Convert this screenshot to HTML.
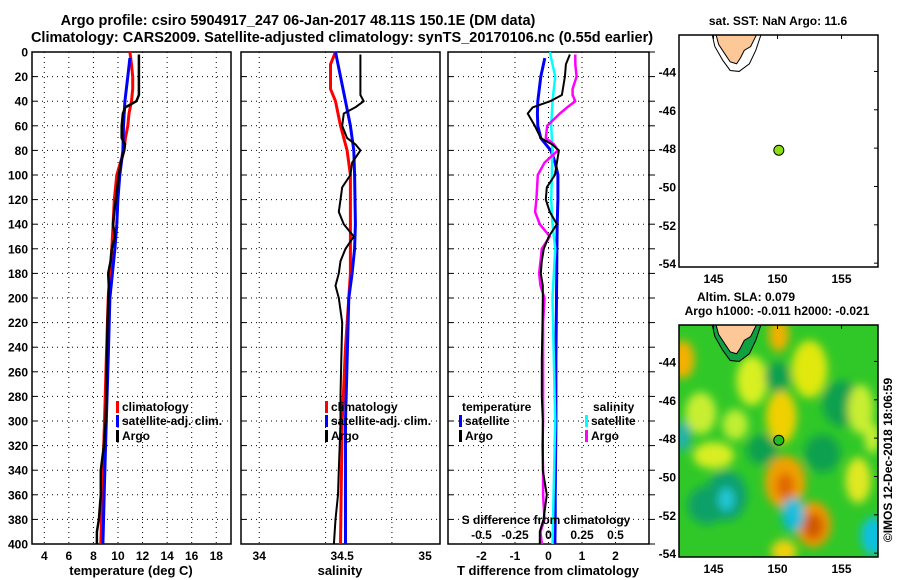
<!DOCTYPE html>
<html><head><meta charset="utf-8"><style>
html,body{margin:0;padding:0;background:#fff;}
svg{display:block;font-family:"Liberation Sans",Arial,sans-serif;font-weight:bold;}
</style></head><body>
<svg id="fig" width="900" height="580" viewBox="0 0 900 580" xmlns="http://www.w3.org/2000/svg">
<defs>
<filter id="blur" x="-50%" y="-50%" width="200%" height="200%"><feGaussianBlur stdDeviation="4.5"/></filter>
<clipPath id="mapclip2"><rect x="679" y="325" width="199" height="232"/></clipPath>
<clipPath id="mapclip1"><rect x="679" y="35" width="199" height="232"/></clipPath>
</defs>
<text x="298" y="25" font-size="14.5" text-anchor="middle">Argo profile: csiro 5904917_247 06-Jan-2017 48.11S 150.1E (DM data)</text>
<text x="342" y="42" font-size="14.5" text-anchor="middle">Climatology: CARS2009. Satellite-adjusted climatology: synTS_20170106.nc (0.55d earlier)</text>
<g id="content"></g>
</svg>
<script>
// ---- data (depth in m) ----
const tClimDepth=[0,10,20,30,40,50,60,70,80,90,100,120,140,160,180,200,250,300,350,400];
const tClim=[10.97,11.1,11.2,11.2,11.1,10.9,10.8,10.6,10.5,10.2,9.9,9.7,9.6,9.5,9.35,9.2,9.05,8.9,8.75,8.6];
const tSatDepth=[5,20,40,60,80,100,120,140,160,200,250,300,350,400];
const tSat=[10.97,10.8,10.56,10.45,10.4,10.15,9.99,9.9,9.75,9.34,9.2,9.05,8.9,8.77];
const argoDepth=[2,10,20,30,35,40,45,50,60,70,75,80,90,100,110,120,130,140,150,160,170,180,190,200,220,250,280,300,320,340,360,380,390,400];
const argoT=[11.7,11.7,11.7,11.7,11.7,11.5,10.6,10.4,10.3,10.3,10.56,10.5,10.24,10.07,9.95,9.83,9.7,9.59,9.75,9.5,9.4,9.2,9.25,9.22,9.15,9.1,9.05,9.0,8.85,8.6,8.6,8.45,8.28,8.28];
const sClimDepth=[0,10,20,30,40,60,80,100,120,140,160,180,200,240,300,350,400];
const sClim=[34.46,34.43,34.43,34.43,34.46,34.49,34.53,34.55,34.55,34.55,34.55,34.55,34.54,34.52,34.5,34.495,34.49];
const sSatDepth=[0,20,40,60,80,100,140,160,180,200,300,400];
const sSat=[34.46,34.49,34.52,34.55,34.57,34.575,34.58,34.575,34.56,34.54,34.52,34.52];
const argoS=[34.61,34.61,34.61,34.61,34.61,34.63,34.58,34.51,34.5,34.53,34.58,34.61,34.56,34.55,34.5,34.49,34.48,34.51,34.57,34.52,34.49,34.48,34.46,34.48,34.5,34.495,34.49,34.49,34.485,34.48,34.475,34.46,34.455,34.45];
const dTSat=[-0.11,-0.23,-0.32,-0.33,-0.32,-0.23,-0.08,0.07,0.2,0.28,0.28,0.26,0.25,0.24,0.22,0.22,0.21,0.2,0.2,0.19];
const dTSatDepth=[5,20,40,50,60,70,75,80,90,100,120,140,160,200,250,300,340,360,380,400];
const dTArgo=[0.64,0.52,0.49,0.43,0.4,0.05,-0.47,-0.62,-0.41,-0.23,0.1,0.31,0.25,0.19,-0.05,-0.08,0.04,0.25,0.01,-0.14,-0.2,-0.23,-0.17,-0.17,-0.18,-0.2,-0.2,-0.17,-0.17,-0.17,-0.05,-0.15,-0.26,-0.26];
const dSSatDepth=[0,20,40,60,80,100,120,140,160,200,300,400];
const dSSat=[0.01,0.05,0.03,0.02,0.03,0.025,0.02,0.03,0.05,0.03,0.05,0.03];
const dSArgo=[0.2,0.2,0.21,0.18,0.18,0.2,0.14,0.085,-0.01,-0.02,0.04,0.07,-0.03,-0.08,-0.085,-0.09,-0.1,-0.065,0.01,-0.05,-0.06,-0.07,-0.06,-0.03,-0.04,-0.04,-0.04,-0.04,-0.045,-0.04,-0.04,-0.03,-0.06,-0.05];
const depthTicks=[0,20,40,60,80,100,120,140,160,180,200,220,240,260,280,300,320,340,360,380,400];
const tTicks=[4,6,8,10,12,14,16,18];
const sLabelTicks=[34,34.5,35];
const sGrid=[34,34.4,34.8];
const dTTicks=[-2,-1,0,1,2];
const dSTicks=[-0.5,-0.25,0,0.25,0.5];
const latTicks=[-44,-46,-48,-50,-52,-54];
const lonTicks=[145,150,155];
const argoLon=150.1, argoLat=-48.11;

const NS="http://www.w3.org/2000/svg";
const root=document.getElementById('content');
function mk(tag,attrs,parent){const e=document.createElementNS(NS,tag);for(const k in attrs)e.setAttribute(k,attrs[k]);(parent||root).appendChild(e);return e;}
function txt(s,attrs,parent){const e=mk('text',attrs,parent);e.textContent=s;return e;}

const Y0=52,Y1=544;
const yD=d=>Y0+(d/400)*(Y1-Y0);
const panels=[
 {x0:32,x1:231,min:3,max:19.2,name:'temperature'},
 {x0:241,x1:440,min:33.89,max:35.09,name:'salinity'},
 {x0:448,x1:649,min:-3,max:3,name:'t-difference'}
];
function xf(p){return v=>p.x0+(v-p.min)/(p.max-p.min)*(p.x1-p.x0);}
function line(xs,ds,fx,color,w,name){
 let d='';for(let i=0;i<xs.length;i++){d+=(i?'L':'M')+fx(xs[i]).toFixed(1)+','+yD(ds[i]).toFixed(1);}
 const e=mk('path',{d:d,fill:'none',stroke:color,'stroke-width':w,'stroke-linejoin':'round'});
 
 
 return e;
}
panels.forEach((p,pi)=>{
 const g=mk('g',{});
 
 
 const fx=xf(p);
 depthTicks.forEach(d=>{ if(d>0&&d<400) mk('line',{x1:p.x0,x2:p.x1,y1:yD(d),y2:yD(d),stroke:'#000','stroke-width':1,'stroke-dasharray':'1,4'},g);});
 const grid=pi==0?tTicks:pi==1?sGrid:dTTicks;
 grid.forEach(v=>mk('line',{x1:fx(v),x2:fx(v),y1:Y0,y2:Y1,stroke:'#000','stroke-width':1,'stroke-dasharray':'1,4'},g));
 depthTicks.forEach(d=>{mk('line',{x1:p.x0,x2:p.x0+5,y1:yD(d),y2:yD(d),stroke:'#000'},g);});
 const r=mk('rect',{x:p.x0,y:Y0,width:p.x1-p.x0,height:Y1-Y0,fill:'none',stroke:'#000','stroke-width':1.5},g);
 
 
 const labs=pi==0?tTicks:pi==1?sLabelTicks:dTTicks;
 labs.forEach(v=>{const t=txt(String(v),{x:fx(v),y:560,'font-size':12,'text-anchor':'middle'},g);
  
  });
});
depthTicks.forEach(d=>{const t=txt(String(d),{x:28,y:yD(d)+4.5,'font-size':12,'text-anchor':'end'});
 
 });
depthTicks.forEach(d=>mk('line',{x1:649,x2:655,y1:yD(d),y2:yD(d),stroke:'#000'}));
[['temperature (deg C)',131],['salinity',340],['T difference from climatology',548]].forEach(a=>{
 const t=txt(a[0],{x:a[1],y:575,'font-size':13,'text-anchor':'middle'});
 
 });
const f0=xf(panels[0]),f1=xf(panels[1]),f2=xf(panels[2]);
const fS=v=>f2(v*4);
line(tClim,tClimDepth,f0,'#f00',3,'temp-climatology-line');
line(tSat,tSatDepth,f0,'#00f',3,'temp-satellite-line');
line(argoT,argoDepth,f0,'#000',2.5,'temp-argo-line');
line(sClim,sClimDepth,f1,'#f00',3,'sal-climatology-line');
line(sSat,sSatDepth,f1,'#00f',3,'sal-satellite-line');
line(argoS,argoDepth,f1,'#000',2,'sal-argo-line');
line(dTSat,dTSatDepth,f2,'#00f',3,'tdiff-satellite-line');
line(dSSat,dSSatDepth,fS,'#0ff',2.5,'sdiff-satellite-line');
line(dSArgo,argoDepth,fS,'#f0f',2.5,'sdiff-argo-line');
line(dTArgo,argoDepth,f2,'#000',2,'tdiff-argo-line');
function leg(x,y,color,label){
 const g=mk('g',{});
 
 
 if(color) mk('rect',{x:x,y:y-10,width:3,height:12,fill:color},g);
 txt(label,{x:x+6,y:y,'font-size':12},g);
}
leg(116,411,'#f00','climatology');leg(116,425,'#00f','satellite-adj. clim.');leg(116,440,'#000','Argo');
leg(325,411,'#f00','climatology');leg(325,425,'#00f','satellite-adj. clim.');leg(325,440,'#000','Argo');
leg(456,411,null,'temperature');leg(459,425,'#00f','satellite');leg(459,440,'#000','Argo');
leg(587,411,null,'salinity');leg(585,425,'#0ff','satellite');leg(585,440,'#f0f','Argo');
{const t=txt('S difference from climatology',{x:546,y:524,'font-size':12,'text-anchor':'middle'});
 }
dSTicks.forEach(v=>{const t=txt(String(v),{x:fS(v),y:539,'font-size':12,'text-anchor':'middle'});
 });

// ---- maps ----
const MX0=679,MX1=878,LON0=142.3,LON1=157.85;
function mapFns(top){const MY0=top,MY1=top+232,LAT0=-42.1,LAT1=-54.2;
 return {x:l=>MX0+(l-LON0)/(LON1-LON0)*(MX1-MX0),y:a=>MY0+(a-LAT0)/(LAT1-LAT0)*(MY1-MY0),y0:MY0,y1:MY1};}
const tas=[[145.2,-42.1],[145.4,-42.6],[145.9,-43.1],[146.3,-43.5],[146.8,-43.6],[147.1,-43.3],[147.4,-42.9],[147.9,-42.7],[148.2,-42.3],[148.35,-42.1]];
const shelf=[[144.9,-42.1],[145.1,-42.7],[145.7,-43.4],[146.3,-43.95],[147.0,-44.0],[147.8,-43.6],[148.3,-42.9],[148.7,-42.1]];
const blobLon=[142.6,150.1,148.0,152.5,150.3,144.0,145.0,146.7,150.6,150.6,152.8,152.8,146.0,151.2,157.5,142.6,148.8,155.0,150.0,153.5,156.3,150.5,156.5,144.5,146.0,151.4,157.4];
const blobLat=[-43.9,-42.6,-45.0,-44.4,-46.9,-46.7,-48.9,-47.3,-50.3,-50.5,-52.5,-52.6,-51.0,-52.0,-53.1,-47.9,-48.6,-46.2,-44.8,-48.8,-50.2,-53.9,-46.5,-51.5,-51.2,-51.8,-48.0];
const blobRx=[0.9,0.8,1.2,1.4,1.2,1.2,1.6,1.0,1.6,0.7,1.4,0.8,1.6,0.9,1.0,0.6,1.2,1.5,1.0,1.4,1.0,1.0,1.0,1.5,0.6,0.5,0.6];
const blobRy=[1.0,0.9,1.3,1.5,1.4,1.1,0.7,0.8,1.4,0.7,1.2,0.7,1.3,0.9,1.0,0.8,0.8,1.2,0.8,1.0,1.2,0.6,1.3,1.0,0.6,0.6,0.8];
const blobCol=['#f5b000','#f0b000','#d8f020','#e0e810','#f0d000','#c8ee30','#d8ee20','#c0ee30','#f0a000','#e06800','#f09800','#d05800','#10a070','#10b8d0','#10c0e0','#20b0b0','#10a050','#10a050','#10a050','#10a050','#e0e820','#f0d010','#c8ee30','#10a068','#20c8d8','#20c0e0','#c8ee30'];
function drawMap(top,name,sla){
 const m=mapFns(top);
 const g=mk('g',{});
 
 
 if(sla){
  const cg=mk('g',{'clip-path':'url(#mapclip2)'},g);
  mk('rect',{x:MX0,y:m.y0,width:MX1-MX0,height:232,fill:'#30c828'},cg);
  const bg=mk('g',{filter:'url(#blur)'},cg);
  for(let i=0;i<blobLon.length;i++){
   const e=mk('ellipse',{cx:m.x(blobLon[i]),cy:m.y(blobLat[i]),rx:blobRx[i]*12.8,ry:blobRy[i]*19.1,fill:blobCol[i]},bg);
   
   
  }
 }
 const cg2=mk('g',{'clip-path':sla?'url(#mapclip2)':'url(#mapclip1)'},g);
 const shelfPts=shelf.map(p=>m.x(p[0])+','+m.y(p[1])).join(' ');
 mk('polyline',{points:shelfPts,fill:sla?'#10a040':'none',stroke:'#000','stroke-width':1},cg2);
 const lp=tas.map(p=>m.x(p[0])+','+m.y(p[1])).join(' ');
 const land=mk('polygon',{points:lp,fill:'#fdc898',stroke:'#000','stroke-width':1},cg2);
 
 
 mk('rect',{x:MX0,y:m.y0,width:MX1-MX0,height:232,fill:'none',stroke:'#000','stroke-width':1.5},g);
 latTicks.forEach(a=>{
  mk('line',{x1:MX1,x2:MX1-4,y1:m.y(a),y2:m.y(a),stroke:'#000'},g);
  const t=txt(String(a),{x:MX0-3,y:m.y(a)+5,'font-size':12,'text-anchor':'end'},g);
  });
 lonTicks.forEach(l=>{
  mk('line',{x1:m.x(l),x2:m.x(l),y1:m.y0,y2:m.y0+4,stroke:'#000'},g);
  const t=txt(String(l),{x:m.x(l),y:m.y1+16,'font-size':12,'text-anchor':'middle'},g);
  });
 const pt=mk('circle',{cx:m.x(argoLon),cy:m.y(argoLat),r:5,fill:sla?'#22bb22':'#88e010',stroke:'#000','stroke-width':1},g);
 
 
}
drawMap(35,'sst-map',false);
drawMap(325,'sla-map',true);
{const t=txt('sat. SST: NaN Argo: 11.6',{x:778,y:25,'font-size':12,'text-anchor':'middle'});
 }
{const t=txt('Altim. SLA: 0.079',{x:746,y:301,'font-size':12,'text-anchor':'middle'});
 }
{const t=txt('Argo h1000: -0.011 h2000: -0.021',{x:777,y:315,'font-size':12,'text-anchor':'middle'});
 }
{const t=txt('©IMOS 12-Dec-2018 18:06:59',{x:0,y:0,'font-size':12,'text-anchor':'middle',transform:'translate(892,460) rotate(-90)'});
 }
</script>
</body></html>
